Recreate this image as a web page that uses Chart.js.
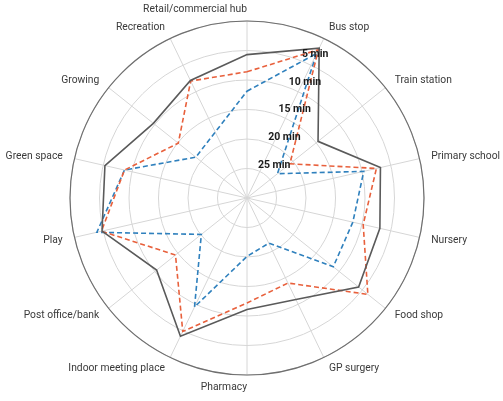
<!DOCTYPE html>
<html>
<head>
<meta charset="utf-8">
<script src="https://cdn.jsdelivr.net/npm/chart.js@4.4.1/dist/chart.umd.min.js"></script>
<style>
  html, body { margin: 0; padding: 0; background: #ffffff; }
  #wrap { width: 503px; height: 401px; position: relative; }
</style>
</head>
<body>
<div id="wrap"><canvas id="c"></canvas></div>
<script>
// Categories, clockwise from the top
const categories = ['Retail/commercial hub', 'Bus stop', 'Train station', 'Primary school', 'Nursery',
  'Food shop', 'GP surgery', 'Pharmacy', 'Indoor meeting place', 'Post office/bank', 'Play',
  'Green space', 'Growing', 'Recreation'];

// Walking time in minutes
const seriesSolid  = [5.7, 1.8, 14.6, 6.8, 6.9, 5.8, 10.9, 11.1, 4.0, 10.4, 4.8, 5.3, 9.7, 7.9];
const seriesOrange = [8.6, 2.1, 20.7, 7.5, 9.8, 3.8, 14.0, 12.2, 4.9, 14.5, 4.7, 8.7, 15.1, 8.0];
const seriesBlue   = [11.9, 2.8, 23.4, 9.7, 11.6, 11.3, 21.5, 20.1, 9.5, 20.1, 3.9, 8.7, 18.9, 17.6];

// Tick labels (values in minutes)
const tickValues = [5, 10, 15, 20, 25];
const tickLabels = ['5 min', '10 min', '15 min', '20 min', '25 min'];

const overlay = {
  id: 'overlay',
  beforeDatasetsDraw(chart) {
    const s = chart.scales.r;
    const ctx = chart.ctx;
    ctx.save();
    ctx.strokeStyle = '#6f6f6f';
    ctx.lineWidth = 1.2;
    ctx.beginPath();
    ctx.arc(s.xCenter, s.yCenter, s.getDistanceFromCenterForValue(0), 0, Math.PI * 2);
    ctx.stroke();
    ctx.restore();
  },
  afterDatasetsDraw(chart) {
    const s = chart.scales.r;
    const ctx = chart.ctx;
    ctx.save();
    // point labels
    ctx.font = '10.3px Roboto, "Open Sans", sans-serif';
    ctx.fillStyle = '#3a3a3a';
    ctx.textBaseline = 'middle';
    const n = categories.length;
    categories.forEach((lab, i) => {
      const p = s.getPointPosition(i, s.drawingArea + 12);
      if (i === 0 || i === n / 2) ctx.textAlign = 'right';
      else if (i < n / 2) ctx.textAlign = 'left';
      else ctx.textAlign = 'right';
      ctx.fillText(lab, p.x, p.y);
    });
    // tick labels along the Bus stop spoke
    ctx.font = 'bold 10.5px Roboto, "Open Sans", sans-serif';
    ctx.fillStyle = '#1a1a1a';
    ctx.textAlign = 'center';
    tickValues.forEach((v, k) => {
      const d = s.getDistanceFromCenterForValue(v);
      const y = s.yCenter - 0.94 * d - 5;
      const x = s.xCenter + 15 + 0.37 * (s.yCenter - y);
      ctx.fillText(tickLabels[k], x, y);
    });
    ctx.restore();
  }
};

new Chart(document.getElementById('c'), {
  type: 'radar',
  data: {
    labels: categories,
    datasets: [
      { data: seriesSolid, borderColor: '#5a5a5a', borderWidth: 1.6, fill: false, pointRadius: 0, tension: 0 },
      { data: seriesOrange, borderColor: '#e8603c', borderWidth: 1.6, borderDash: [5, 3], fill: false, pointRadius: 0, tension: 0 },
      { data: seriesBlue, borderColor: '#2f80bd', borderWidth: 1.6, borderDash: [5, 3], fill: false, pointRadius: 0, tension: 0 }
    ]
  },
  options: {
    responsive: true,
    maintainAspectRatio: false,
    animation: false,
    layout: { padding: { left: 0, right: 9, top: 21, bottom: 26 } },
    plugins: { legend: { display: false }, tooltip: { enabled: false } },
    scales: {
      r: {
        min: 0,
        max: 30,
        reverse: true,
        ticks: { stepSize: 5, display: false },
        grid: { circular: true, color: '#d6d6d6', lineWidth: 1 },
        angleLines: { color: '#d6d6d6', lineWidth: 1 },
        pointLabels: { display: false }
      }
    }
  },
  plugins: [overlay]
});
</script>
</body>
</html>
